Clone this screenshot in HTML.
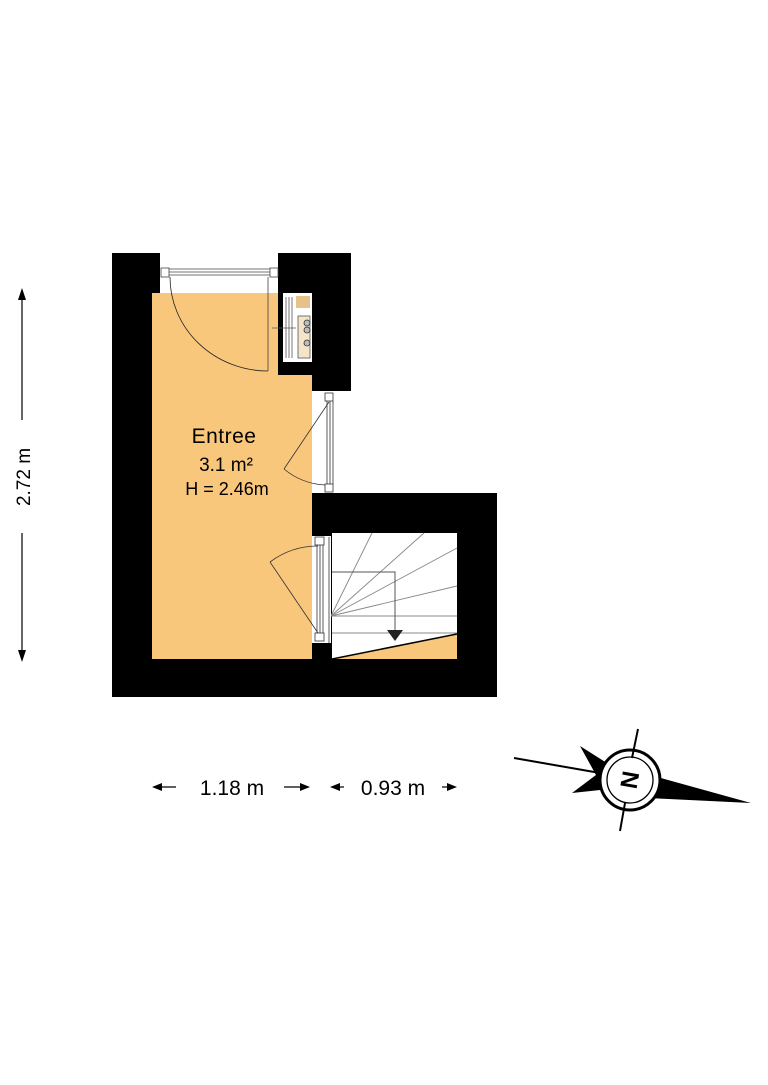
<!DOCTYPE html>
<html><head><style>
html,body{margin:0;padding:0;background:#fff;}
svg{display:block;}
text{font-family:"Liberation Sans",sans-serif;fill:#000;}
</style></head><body>
<svg width="768" height="1085" viewBox="0 0 768 1085" xmlns="http://www.w3.org/2000/svg">
<rect x="152" y="293" width="160" height="367" fill="#f8c77b"/>
<rect x="112" y="253" width="40" height="444" fill="#000"/>
<rect x="112" y="253" width="48" height="40" fill="#000"/>
<rect x="278" y="253" width="73" height="40" fill="#000"/>
<rect x="312" y="253" width="39" height="138" fill="#000"/>
<rect x="283" y="362" width="30" height="13" fill="#000"/>
<rect x="278" y="253" width="5" height="122" fill="#000"/>
<rect x="312" y="493" width="185" height="204" fill="#000"/>
<rect x="112" y="659" width="385" height="38" fill="#000"/>
<rect x="283" y="293" width="29" height="69" fill="#fff"/>
<rect x="296" y="296" width="14" height="12" fill="#e8c08a"/>
<g stroke="#555" stroke-width="0.8">
<line x1="286" y1="297" x2="286" y2="358"/><line x1="289" y1="297" x2="289" y2="358"/><line x1="292" y1="297" x2="292" y2="358"/>
<rect x="298" y="316" width="12" height="42" fill="#f4e4c8"/>
<line x1="272" y1="328" x2="296" y2="328"/>
</g>
<circle cx="307" cy="323" r="3" fill="#bbb" stroke="#333" stroke-width="0.8"/>
<circle cx="307" cy="330" r="3" fill="#bbb" stroke="#333" stroke-width="0.8"/>
<circle cx="307" cy="343" r="3" fill="#bbb" stroke="#333" stroke-width="0.8"/>
<rect x="160" y="253" width="118" height="40" fill="#fff"/>
<g stroke="#444" stroke-width="0.8" fill="none">
<rect x="161" y="268" width="8" height="9"/><rect x="270" y="268" width="8" height="9"/>
<line x1="169" y1="269" x2="270" y2="269"/><line x1="169" y1="272" x2="270" y2="272"/><line x1="169" y1="275" x2="270" y2="275"/>
<line x1="268" y1="277" x2="268" y2="371"/>
<path d="M170 277 A98 94 0 0 0 268 371" stroke="#222"/>
</g>
<rect x="312" y="391" width="24" height="102" fill="#fff"/>
<g stroke="#333" stroke-width="0.8" fill="none">
<rect x="325" y="393" width="8" height="8"/><rect x="325" y="484" width="8" height="8"/>
<line x1="327" y1="401" x2="327" y2="484"/><line x1="330" y1="401" x2="330" y2="484"/><line x1="333" y1="401" x2="333" y2="484"/>
<line x1="329" y1="402" x2="284" y2="469"/>
<path d="M284 469 A70 70 0 0 0 325 485"/>
</g>
<rect x="332" y="533" width="125" height="126" fill="#fff"/>
<polygon points="332,659 457,634 457,659" fill="#f8c77b"/>
<line x1="332" y1="659" x2="457" y2="634" stroke="#000" stroke-width="1.5"/>
<g stroke="#888" stroke-width="0.9">
<line x1="331" y1="616" x2="372" y2="533"/>
<line x1="331" y1="616" x2="424" y2="533"/>
<line x1="331" y1="616" x2="457" y2="548"/>
<line x1="331" y1="616" x2="457" y2="586"/>
<line x1="331" y1="616" x2="457" y2="616"/>
<line x1="332" y1="633" x2="457" y2="633"/>
</g>
<polyline points="332,572 395,572 395,630" fill="none" stroke="#555" stroke-width="1"/>
<polygon points="387,630 403,630 395,641" fill="#222"/>
<rect x="312" y="536" width="19" height="107" fill="#fff"/>
<g stroke="#333" stroke-width="0.8" fill="none">
<rect x="315" y="537" width="9" height="8"/><rect x="315" y="633" width="9" height="8"/>
<line x1="317" y1="545" x2="317" y2="633"/><line x1="320" y1="545" x2="320" y2="633"/><line x1="323" y1="545" x2="323" y2="633"/>
<line x1="329" y1="537" x2="329" y2="643"/>
<line x1="318" y1="633" x2="270" y2="562"/>
<path d="M270 562 A80 80 0 0 1 318 546"/>
</g>
<text x="224" y="443" font-size="21" text-anchor="middle" letter-spacing="0.5">Entree</text>
<text x="226" y="471" font-size="19" text-anchor="middle">3.1 m²</text>
<text x="227" y="495" font-size="18" text-anchor="middle">H = 2.46m</text>
<line x1="22" y1="292" x2="22" y2="420" stroke="#000" stroke-width="1.2"/>
<line x1="22" y1="533" x2="22" y2="658" stroke="#000" stroke-width="1.2"/>
<polygon points="22,288 18,300 26,300" fill="#000"/>
<polygon points="22,662 18,650 26,650" fill="#000"/>
<text x="30" y="477" font-size="19" text-anchor="middle" transform="rotate(-90 30 477)">2.72 m</text>
<text x="232" y="795" font-size="21" text-anchor="middle">1.18 m</text>
<line x1="156" y1="787" x2="176" y2="787" stroke="#000" stroke-width="1.2"/>
<polygon points="152,787 162,783 162,791" fill="#000"/>
<line x1="284" y1="787" x2="306" y2="787" stroke="#000" stroke-width="1.2"/>
<polygon points="310,787 300,783 300,791" fill="#000"/>
<text x="393" y="795" font-size="21" text-anchor="middle">0.93 m</text>
<line x1="334" y1="787" x2="344" y2="787" stroke="#000" stroke-width="1.2"/>
<polygon points="330,787 340,783 340,791" fill="#000"/>
<line x1="442" y1="787" x2="453" y2="787" stroke="#000" stroke-width="1.2"/>
<polygon points="457,787 447,783 447,791" fill="#000"/>
<polygon points="580,746 610,765 600,790 572,793 596,775" fill="#000"/>
<polygon points="650,775 751,803 648,798" fill="#000"/>
<line x1="514" y1="758" x2="600" y2="773" stroke="#000" stroke-width="2"/>
<circle cx="630" cy="780" r="30" fill="#fff" stroke="#000" stroke-width="3"/>
<circle cx="630" cy="780" r="23" fill="none" stroke="#000" stroke-width="1.3"/>
<line x1="638" y1="729" x2="632" y2="758" stroke="#000" stroke-width="2"/>
<line x1="625" y1="803" x2="620" y2="831" stroke="#000" stroke-width="2"/>
<text x="630" y="788" font-size="24" font-weight="bold" text-anchor="middle" transform="rotate(-80 630 780)">N</text>
</svg>
</body></html>
